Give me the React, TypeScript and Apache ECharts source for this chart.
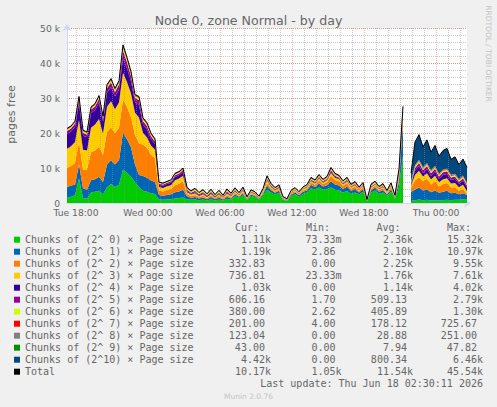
import React, { useEffect, useRef } from 'react';
import * as echarts from 'echarts';

// ---- data (thousands of pages), one sample every 20 minutes from Tue 17:10 to Thu 02:30 ----
const SERIES_NAMES = [
  'Chunks of (2^ 0) × Page size',
  'Chunks of (2^ 1) × Page size',
  'Chunks of (2^ 2) × Page size',
  'Chunks of (2^ 3) × Page size',
  'Chunks of (2^ 4) × Page size',
  'Chunks of (2^ 5) × Page size',
  'Chunks of (2^ 6) × Page size',
  'Chunks of (2^ 7) × Page size',
  'Chunks of (2^ 8) × Page size',
  'Chunks of (2^ 9) × Page size',
  'Chunks of (2^10) × Page size',
];
const COLORS = ['#00CC00', '#0066B3', '#FF8000', '#FFCC00', '#330099', '#990099', '#CCFF00', '#FF0000', '#808080', '#008F00', '#00487D'];

const C0 = [1.5,1.8,2.2,7.0,1.4,1.2, 3.0,3.2,3.5,2.5, 4.5,5.4,4.6,5.2, 9.6,8.6,7.5,6.0,4.5, 3.5,3.2,2.8,2.6, 1.0,0.9,1.0,1.1,1.3,1.4,1.6, 1.0,0.9,1.0,0.8,1.0,0.7,1.1,0.7,1.0,0.7,1.2,0.9, 2.0,1.5,2.2,0.9,2.0,1.7,1.0,2.2, 3.8,3.0,2.4,2.9,0.9,0.6,2.0,2.5,1.8,2.6,3.0,4.2,3.8,4.4,3.8,4.0, 4.4,3.8,3.6,3.0,3.4,2.6,3.0,2.4,3.2,0.5,2.9,3.6,2.6,3.0,2.0,3.2,1.2, 4.5,13.5, null, 0.6,0.8,1.0,0.8,0.9,0.7,0.8,0.7,0.8,0.9,0.8,0.9,0.9,1.0,1.11];
const C1 = [3.0,3.2,3.0,4.0,2.8,2.6, 3.5,3.6,4.0,3.5, 6.5,6.8,6.4,7.0, 10.5,9.6,8.4,5.0,3.5, 4.2,4.0,3.6,3.4, 1.3,1.2,1.3,1.4,1.8,1.9,2.2, 0.9,0.6,0.7,0.5,0.6,0.4,0.6,0.4,0.6,0.3,0.6,0.4, 0.5,0.3,0.5,0.2,0.4,0.3,0.2,0.4, 1.2,0.7,0.5,0.6,0.2,0.1,0.4,0.5,0.4,0.6,0.6,1.0,0.8,1.2,0.9,1.1, 1.8,1.5,1.4,1.0,1.3,0.9,1.0,0.6,0.8,0.1,0.7,0.8,0.6,0.7,0.4,0.7,0.2, 1.6,9.5, null, 2.6,3.0,3.4,2.8,3.0,2.4,2.8,2.2,2.4,2.6,2.0,2.0,1.6,1.8,1.19];
const C2 = [5.5,5.6,6.2,6.5,5.4,5.8, 8.0,8.2,8.6,7.8, 9.3,9.4,9.0,9.3, 9.5,9.2,8.6,8.4,9.0, 9.0,8.5,7.4,6.8, 1.3,1.2,1.4,1.5,2.0,2.2,2.4, 0.7,0.5,0.6,0.4,0.5,0.3,0.5,0.3,0.5,0.3,0.5,0.3, 0.4,0.3,0.4,0.1,0.3,0.3,0.2,0.4, 0.7,0.5,0.4,0.4,0.15,0.1,0.3,0.4,0.2,0.4,0.5,0.7,0.6,0.9,0.7,0.9, 1.6,1.3,1.2,0.9,1.0,0.6,0.7,0.4,0.6,0.05,0.5,0.6,0.5,0.6,0.3,0.6,0.2, 1.2,1.6, null, 1.2,2.6,3.0,2.6,3.0,2.2,2.6,1.8,2.2,2.2,1.6,1.6,1.0,1.2,0.33];
const C3 = [5.5,5.6,6.0,6.2,5.6,5.4, 7.0,7.4,7.9,6.0, 7.2,7.5,6.8,7.2, 7.6,7.2,6.8,6.4,7.4, 3.4,3.0,2.6,2.4, 1.0,1.0,1.1,1.1,1.4,1.5,1.6, 0.5,0.4,0.5,0.3,0.4,0.3,0.4,0.2,0.4,0.2,0.4,0.3, 0.4,0.2,0.4,0.1,0.3,0.2,0.1,0.3, 0.7,0.4,0.3,0.4,0.1,0.05,0.2,0.3,0.2,0.3,0.3,0.4,0.4,0.5,0.4,0.5, 0.8,0.6,0.6,0.4,0.5,0.3,0.4,0.3,0.3,0.05,0.3,0.3,0.2,0.3,0.2,0.3,0.1, 0.6,1.0, null, 0.6,1.6,1.8,1.4,1.6,1.4,1.6,1.2,1.4,1.4,1.2,1.2,1.0,1.2,0.74];
const C4 = [4.2,4.2,4.4,4.8,4.0,3.8, 4.2,4.2,4.6,3.4, 4.0,4.0,3.6,3.8, 4.0,3.8,3.5,3.0,3.6, 2.3,2.3,1.8,1.6, 0.6,0.6,0.6,0.7,0.9,0.9,1.0, 0.3,0.2,0.3,0.2,0.3,0.2,0.3,0.2,0.2,0.1,0.3,0.2, 0.2,0.1,0.2,0.05,0.1,0.1,0.05,0.1, 0.3,0.2,0.1,0.2,0.05,0.05,0.1,0.1,0.1,0.1,0.2,0.2,0.2,0.2,0.2,0.2, 0.4,0.3,0.2,0.2,0.2,0.1,0.2,0.1,0.1,0.02,0.1,0.1,0.1,0.1,0.05,0.1,0.05, 0.3,0.3, null, 0.4,1.2,1.4,1.0,1.2,1.0,1.2,1.0,1.2,1.2,1.0,1.2,1.0,1.2,1.03];
const C5 = [0.9,0.9,0.9,1.0,0.9,0.8, 1.0,1.0,1.2,0.9, 1.3,1.4,1.3,1.4, 2.4,1.8,1.5,1.2,1.4, 1.0,1.0,0.9,0.8, 0.4,0.4,0.4,0.4,0.5,0.5,0.6, 0.4,0.3,0.4,0.3,0.35,0.25,0.35,0.2,0.3,0.2,0.35,0.25, 0.25,0.2,0.25,0.1,0.2,0.2,0.1,0.2, 0.3,0.25,0.2,0.2,0.1,0.08,0.15,0.15,0.15,0.15,0.2,0.2,0.2,0.3,0.2,0.3, 0.4,0.3,0.3,0.25,0.3,0.2,0.2,0.2,0.2,0.05,0.2,0.2,0.2,0.2,0.15,0.2,0.1, 0.3,0.4, null, 0.3,0.8,0.9,0.8,0.9,0.8,0.8,0.7,0.8,0.8,0.7,0.7,0.6,0.7,0.61];
const C6 = [0.4,0.4,0.4,0.5,0.4,0.4, 0.4,0.4,0.5,0.4, 0.6,0.6,0.6,0.6, 0.9,0.8,0.7,0.5,0.6, 0.5,0.5,0.4,0.4, 0.2,0.2,0.2,0.2,0.3,0.3,0.3, 0.3,0.3,0.4,0.3,0.4,0.25,0.4,0.2,0.4,0.2,0.4,0.25, 0.3,0.2,0.3,0.15,0.25,0.2,0.15,0.3, 0.4,0.3,0.25,0.3,0.15,0.1,0.25,0.25,0.2,0.25,0.25,0.3,0.3,0.3,0.3,0.3, 0.4,0.35,0.3,0.3,0.3,0.3,0.3,0.25,0.3,0.1,0.3,0.3,0.25,0.3,0.2,0.3,0.15, 0.4,0.6, null, 0.2,0.4,0.4,0.4,0.4,0.4,0.4,0.4,0.4,0.4,0.4,0.4,0.4,0.4,0.38];
const C7 = [0.2,0.2,0.2,0.3,0.2,0.2, 0.2,0.3,0.3,0.2, 0.3,0.3,0.3,0.3, 0.5,0.4,0.4,0.3,0.3, 0.3,0.3,0.3,0.2, 0.1,0.1,0.1,0.1,0.2,0.2,0.2, 0.2,0.15,0.15,0.1,0.15,0.1,0.15,0.1,0.1,0.1,0.15,0.1, 0.15,0.1,0.15,0.1,0.1,0.1,0.1,0.1, 0.2,0.15,0.15,0.1,0.08,0.06,0.1,0.1,0.08,0.1,0.1,0.2,0.15,0.2,0.15,0.15, 0.2,0.2,0.15,0.15,0.2,0.2,0.2,0.2,0.2,0.06,0.2,0.2,0.15,0.2,0.15,0.2,0.1, 0.3,0.3, null, 0.1,0.2,0.2,0.2,0.2,0.2,0.2,0.2,0.2,0.2,0.2,0.2,0.2,0.2,0.2];
const C8 = [0.05,0.05,0.05,0.08,0.05,0.05, 0.05,0.05,0.05,0.05, 0.08,0.08,0.08,0.08, 0.1,0.1,0.1,0.08,0.08, 0.08,0.08,0.08,0.08, 0.05,0.05,0.05,0.05,0.05,0.05,0.05, 0.12,0.1,0.1,0.08,0.1,0.08,0.1,0.08,0.1,0.08,0.1,0.08, 0.1,0.07,0.1,0.06,0.08,0.07,0.06,0.08, 0.1,0.08,0.07,0.07,0.05,0.04,0.07,0.07,0.06,0.07,0.07,0.1,0.08,0.1,0.08,0.1, 0.1,0.1,0.1,0.1,0.1,0.1,0.1,0.1,0.1,0.05,0.1,0.1,0.1,0.1,0.1,0.12,0.08, 0.25,0.2, null, 0.1,0.2,0.2,0.2,0.2,0.2,0.2,0.15,0.15,0.15,0.15,0.15,0.12,0.12,0.12];
const C9 = [0.01,0.01,0.01,0.01,0.01,0.01, 0.01,0.01,0.01,0.01, 0.01,0.01,0.01,0.01, 0.02,0.02,0.02,0.01,0.01, 0.01,0.01,0.01,0.01, 0.01,0.01,0.01,0.01,0.01,0.01,0.01, 0.01,0.01,0.01,0.01,0.01,0.01,0.01,0.01,0.01,0.01,0.01,0.01, 0.01,0.01,0.01,0.01,0.01,0.01,0.01,0.01, 0.01,0.01,0.01,0.01,0.01,0,0.01,0.01,0.01,0.01,0.01,0.01,0.01,0.01,0.01,0.01, 0.01,0.01,0.01,0.01,0.01,0.01,0.01,0.01,0.01,0,0.01,0.01,0.01,0.01,0.01,0.01,0.01, 0.02,0.03, null, 0.03,0.04,0.04,0.04,0.04,0.04,0.04,0.04,0.04,0.04,0.04,0.04,0.04,0.04,0.04];
const C10 = [0.04,0.04,0.04,0.05,0.04,0.04, 0.04,0.04,0.04,0.04, 0.05,0.05,0.05,0.05, 0.06,0.06,0.06,0.05,0.05, 0.05,0.05,0.05,0.05, 0.03,0.03,0.03,0.03,0.03,0.03,0.03, 0.05,0.04,0.04,0.03,0.03,0.03,0.03,0.03,0.03,0.03,0.03,0.03, 0.03,0.02,0.03,0.02,0.03,0.02,0.02,0.03, 0.05,0.03,0.03,0.03,0.02,0.02,0.02,0.02,0.02,0.02,0.02,0.03,0.03,0.03,0.03,0.03, 0.04,0.04,0.04,0.04,0.04,0.04,0.04,0.03,0.03,0.02,0.03,0.03,0.03,0.03,0.03,0.03,0.02, 0.3,0.2, null, 2.4,6.6,7.2,5.8,6.6,5.2,5.8,5.0,5.4,5.7,4.4,4.8,4.1,4.7,4.42];

const COMPONENTS = [C0, C1, C2, C3, C4, C5, C6, C7, C8, C9, C10];

// legend statistics (as printed by Munin)
const CUR = ['1.11k', '1.19k', '332.83', '736.81', '1.03k', '606.16', '380.00', '201.00', '123.04', '43.00', '4.42k', '10.17k'];
const MIN = ['73.33m', '2.86', '0.00', '23.33m', '0.00', '1.70', '2.62', '4.00', '0.00', '0.00', '0.00', '1.05k'];
const AVG = ['2.36k', '2.10k', '2.25k', '1.76k', '1.14k', '509.13', '405.89', '178.12', '28.88', '7.94', '800.34', '11.54k'];
const MAX = ['15.32k', '10.97k', '9.55k', '7.61k', '4.02k', '2.79k', '1.30k', '725.67', '251.00', '47.82', '6.46k', '45.54k'];

const X_TICK_LABELS = ['Tue 18:00', 'Wed 00:00', 'Wed 06:00', 'Wed 12:00', 'Wed 18:00', 'Thu 00:00'];
const Y_TICK_LABELS = ['0', '10 k', '20 k', '30 k', '40 k', '50 k'];

// ---- axis layout: one category slot per 5 minutes (one pixel column) ----
const N_SLOTS = 400;
const FIRST_HOUR_SLOT = 9; // Tue 18:00
const SLOTS_PER_HOUR = 12;
const SLOTS_PER_SAMPLE = 4;
const CATS = Array.from({ length: N_SLOTS + 1 }, (_, k) => {
  const j = (k - FIRST_HOUR_SLOT) / (SLOTS_PER_HOUR * 6);
  return Number.isInteger(j) && j >= 0 && j < X_TICK_LABELS.length ? X_TICK_LABELS[j] : `s${k}`;
});
const isHour = (k: number) => k >= FIRST_HOUR_SLOT && (k - FIRST_HOUR_SLOT) % SLOTS_PER_HOUR === 0;
const isMajor = (k: number) => k >= FIRST_HOUR_SLOT && (k - FIRST_HOUR_SLOT) % (SLOTS_PER_HOUR * 6) === 0;
const MINOR_SLOTS = CATS.map((_, k) => k).filter((k) => isHour(k) && !isMajor(k));
const MAJOR_SLOTS = CATS.map((_, k) => k).filter((k) => isMajor(k));

const TOTAL = C0.map((_, i) => {
  if (C0[i] === null) return null;
  let s = 0;
  COMPONENTS.forEach((c) => { s += c[i] as number; });
  return Math.round(s * 100) / 100;
});

const toPairs = (arr: (number | null)[]) => arr.map((v, i) => [i * SLOTS_PER_SAMPLE, v === null ? '-' : v]);

const FONT = 'DejaVu Sans, sans-serif';
const MONO = 'DejaVu Sans Mono, monospace';
const TXT = '#666666';
const AXIS_COLOR = '#CFD6F8';
const MINOR_GRID = 'rgba(143,143,143,0.5)';
const MAJOR_GRID = 'rgba(222,79,79,0.4)';

const gridSeries = (name: string, slots: number[], color: string) => ({
  name,
  type: 'line',
  xAxisIndex: 0,
  yAxisIndex: 0,
  data: [],
  silent: true,
  z: 1,
  markLine: {
    silent: true,
    symbol: ['none', 'none'],
    label: { show: false },
    animation: false,
    lineStyle: { color, type: 'dotted', width: 1 },
    data: slots.map((k) => ({ xAxis: CATS[k] })),
  },
});

export default function App() {
  const ref = useRef<HTMLDivElement>(null);
  useEffect(() => {
    document.body.style.margin = '0';
    const chart = echarts.init(ref.current!, undefined, { renderer: 'svg' });

    const rowY = (i: number) => 239.7 + 12 * i;
    const colEnds = [271, 341.5, 413, 483];
    const cols = [CUR, MIN, AVG, MAX];
    const valueTexts: any[] = [];
    cols.forEach((col, c) => {
      col.forEach((v, i) => {
        const suffixed = /[a-z]$/i.test(v);
        valueTexts.push({
          type: 'text',
          x: suffixed ? colEnds[c] : colEnds[c] - 6.02,
          y: rowY(i),
          z: 10,
          style: { text: v, fill: TXT, font: `10px ${MONO}`, textAlign: 'right', textVerticalAlign: 'middle' },
        });
      });
    });
    const headers = [['Cur:', 235], ['Min:', 306], ['Avg:', 376.5], ['Max:', 447]].map(([t, x]) => ({
      type: 'text', x, y: 227.3, z: 10,
      style: { text: t, fill: TXT, font: `10px ${MONO}`, textAlign: 'left', textVerticalAlign: 'middle' },
    }));

    const series: any[] = [
      gridSeries('hour-grid', MINOR_SLOTS, MINOR_GRID),
      gridSeries('major-grid', MAJOR_SLOTS, MAJOR_GRID),
    ];
    COMPONENTS.forEach((c, idx) => series.push({
      name: SERIES_NAMES[idx],
      type: 'line',
      stack: 'total',
      xAxisIndex: 0,
      yAxisIndex: 0,
      data: toPairs(c),
      symbol: 'none',
      silent: true,
      color: COLORS[idx],
      itemStyle: { color: COLORS[idx] },
      lineStyle: { width: 0, color: COLORS[idx] },
      areaStyle: { color: COLORS[idx], opacity: 1 },
      z: 2,
    }));
    series.push({
      name: 'Total',
      type: 'line',
      xAxisIndex: 0,
      yAxisIndex: 0,
      data: toPairs(TOTAL),
      symbol: 'none',
      silent: true,
      color: '#000000',
      itemStyle: { color: '#000000' },
      lineStyle: { width: 1, color: '#000000' },
      z: 5,
    });

    chart.setOption({
      animation: false,
      backgroundColor: '#F0F0F0',
      grid: { left: 67, top: 28, width: 400, height: 175, show: true, backgroundColor: '#FFFFFF', borderWidth: 0 },
      xAxis: [
        {
          type: 'category',
          data: CATS,
          boundaryGap: false,
          position: 'bottom',
          axisLine: { show: true, lineStyle: { color: AXIS_COLOR, width: 1 }, symbol: ['none', 'arrow'], symbolSize: [7, 7], symbolOffset: [0, 4] },
          axisTick: { show: false },
          axisLabel: {
            interval: (k: number) => isMajor(k),
            color: TXT, fontFamily: FONT, fontSize: 9.2, margin: 5,
          },
          splitLine: { show: false },
        },
      ],
      yAxis: [
        {
          type: 'value', min: 0, max: 50, interval: 2,
          axisLine: { show: true, lineStyle: { color: AXIS_COLOR, width: 1 }, symbol: ['none', 'arrow'], symbolSize: [7, 7], symbolOffset: [0, 4] },
          axisTick: { show: false },
          axisLabel: {
            color: TXT, fontFamily: FONT, fontSize: 9.2, margin: 7,
            formatter: (v: number) => (v % 10 === 0 ? Y_TICK_LABELS[v / 10] : ''),
          },
          splitLine: { show: true, lineStyle: { color: MINOR_GRID, type: 'dotted', width: 1 } },
        },
        {
          type: 'value', min: 0, max: 50, interval: 10, position: 'left',
          axisLine: { show: false }, axisTick: { show: false }, axisLabel: { show: false },
          splitLine: { show: true, lineStyle: { color: MAJOR_GRID, type: 'dotted', width: 1 } },
        },
      ],
      legend: {
        orient: 'vertical', left: 14, top: 233.7, padding: 0,
        itemWidth: 6, itemHeight: 6, itemGap: 0, icon: 'rect', selectedMode: false,
        textStyle: { fontFamily: MONO, fontSize: 10, color: TXT, lineHeight: 12 },
        data: [...SERIES_NAMES, 'Total'],
      },
      graphic: [
        { type: 'text', x: 248.5, y: 20, z: 10, style: { text: 'Node 0, zone Normal - by day', fill: TXT, font: `12.6px ${FONT}`, textAlign: 'center', textVerticalAlign: 'middle' } },
        { type: 'text', x: 11, y: 114.5, rotation: Math.PI / 2, z: 10, style: { text: 'pages free', fill: TXT, font: `11px ${FONT}`, textAlign: 'center', textVerticalAlign: 'middle' } },
        { type: 'text', x: 488, y: 53.5, rotation: -Math.PI / 2, z: 10, style: { text: 'RRDTOOL / TOBI OETIKER', fill: '#C4C4C4', font: `7.5px ${FONT}`, textAlign: 'center', textVerticalAlign: 'middle' } },
        ...headers,
        ...valueTexts,
        { type: 'text', x: 483, y: 383.3, z: 10, style: { text: 'Last update: Thu Jun 18 02:30:11 2026', fill: TXT, font: `10px ${MONO}`, textAlign: 'right', textVerticalAlign: 'middle' } },
        { type: 'text', x: 248.5, y: 396, z: 10, style: { text: 'Munin 2.0.76', fill: '#C4C4C4', font: `7.5px ${FONT}`, textAlign: 'center', textVerticalAlign: 'middle' } },
      ],
      series,
    });
    return () => chart.dispose();
  }, []);
  return <div ref={ref} style={{ position: 'absolute', left: 0, top: 0, width: 497, height: 407 }} />;
}
